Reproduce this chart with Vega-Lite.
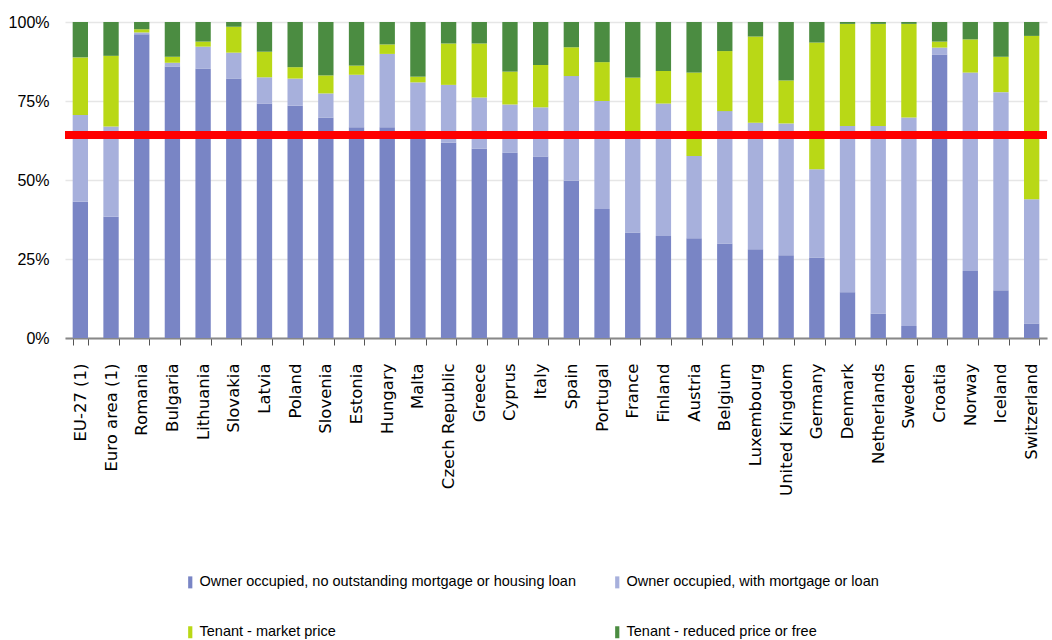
{
  "$schema": "https://vega.github.io/schema/vega-lite/v6.json",
  "width": 982,
  "height": 316,
  "padding": {"left": 8, "top": 14, "right": 5, "bottom": 0},
  "background": "white",
  "config": {"view": {"stroke": null}},
  "data": {
    "values": [
      {"country": "EU-27 (1)", "Owner occupied, no outstanding mortgage or housing loan": 43.1, "Owner occupied, with mortgage or loan": 27.5, "Tenant - market price": 18.2, "Tenant - reduced price or free": 11.2},
      {"country": "Euro area (1)", "Owner occupied, no outstanding mortgage or housing loan": 38.4, "Owner occupied, with mortgage or loan": 28.5, "Tenant - market price": 22.4, "Tenant - reduced price or free": 10.7},
      {"country": "Romania", "Owner occupied, no outstanding mortgage or housing loan": 96.1, "Owner occupied, with mortgage or loan": 0.6, "Tenant - market price": 1.0, "Tenant - reduced price or free": 2.3},
      {"country": "Bulgaria", "Owner occupied, no outstanding mortgage or housing loan": 85.9, "Owner occupied, with mortgage or loan": 1.2, "Tenant - market price": 1.9, "Tenant - reduced price or free": 11.0},
      {"country": "Lithuania", "Owner occupied, no outstanding mortgage or housing loan": 85.3, "Owner occupied, with mortgage or loan": 6.9, "Tenant - market price": 1.6, "Tenant - reduced price or free": 6.2},
      {"country": "Slovakia", "Owner occupied, no outstanding mortgage or housing loan": 82.1, "Owner occupied, with mortgage or loan": 8.2, "Tenant - market price": 8.2, "Tenant - reduced price or free": 1.5},
      {"country": "Latvia", "Owner occupied, no outstanding mortgage or housing loan": 74.2, "Owner occupied, with mortgage or loan": 8.3, "Tenant - market price": 8.1, "Tenant - reduced price or free": 9.4},
      {"country": "Poland", "Owner occupied, no outstanding mortgage or housing loan": 73.5, "Owner occupied, with mortgage or loan": 8.6, "Tenant - market price": 3.6, "Tenant - reduced price or free": 14.3},
      {"country": "Slovenia", "Owner occupied, no outstanding mortgage or housing loan": 69.8, "Owner occupied, with mortgage or loan": 7.6, "Tenant - market price": 5.7, "Tenant - reduced price or free": 16.9},
      {"country": "Estonia", "Owner occupied, no outstanding mortgage or housing loan": 66.7, "Owner occupied, with mortgage or loan": 16.6, "Tenant - market price": 2.9, "Tenant - reduced price or free": 13.8},
      {"country": "Hungary", "Owner occupied, no outstanding mortgage or housing loan": 66.7, "Owner occupied, with mortgage or loan": 23.2, "Tenant - market price": 3.0, "Tenant - reduced price or free": 7.1},
      {"country": "Malta", "Owner occupied, no outstanding mortgage or housing loan": 64.0, "Owner occupied, with mortgage or loan": 16.9, "Tenant - market price": 1.8, "Tenant - reduced price or free": 17.3},
      {"country": "Czech Republic", "Owner occupied, no outstanding mortgage or housing loan": 61.8, "Owner occupied, with mortgage or loan": 18.3, "Tenant - market price": 13.1, "Tenant - reduced price or free": 6.8},
      {"country": "Greece", "Owner occupied, no outstanding mortgage or housing loan": 60.0, "Owner occupied, with mortgage or loan": 16.1, "Tenant - market price": 17.1, "Tenant - reduced price or free": 6.8},
      {"country": "Cyprus", "Owner occupied, no outstanding mortgage or housing loan": 58.6, "Owner occupied, with mortgage or loan": 15.3, "Tenant - market price": 10.4, "Tenant - reduced price or free": 15.7},
      {"country": "Italy", "Owner occupied, no outstanding mortgage or housing loan": 57.4, "Owner occupied, with mortgage or loan": 15.6, "Tenant - market price": 13.4, "Tenant - reduced price or free": 13.6},
      {"country": "Spain", "Owner occupied, no outstanding mortgage or housing loan": 49.8, "Owner occupied, with mortgage or loan": 33.1, "Tenant - market price": 9.1, "Tenant - reduced price or free": 8.0},
      {"country": "Portugal", "Owner occupied, no outstanding mortgage or housing loan": 40.8, "Owner occupied, with mortgage or loan": 34.2, "Tenant - market price": 12.3, "Tenant - reduced price or free": 12.7},
      {"country": "France", "Owner occupied, no outstanding mortgage or housing loan": 33.4, "Owner occupied, with mortgage or loan": 30.6, "Tenant - market price": 18.4, "Tenant - reduced price or free": 17.6},
      {"country": "Finland", "Owner occupied, no outstanding mortgage or housing loan": 32.3, "Owner occupied, with mortgage or loan": 41.9, "Tenant - market price": 10.3, "Tenant - reduced price or free": 15.5},
      {"country": "Austria", "Owner occupied, no outstanding mortgage or housing loan": 31.6, "Owner occupied, with mortgage or loan": 26.0, "Tenant - market price": 26.4, "Tenant - reduced price or free": 16.0},
      {"country": "Belgium", "Owner occupied, no outstanding mortgage or housing loan": 29.9, "Owner occupied, with mortgage or loan": 41.9, "Tenant - market price": 19.0, "Tenant - reduced price or free": 9.2},
      {"country": "Luxembourg", "Owner occupied, no outstanding mortgage or housing loan": 28.1, "Owner occupied, with mortgage or loan": 40.0, "Tenant - market price": 27.3, "Tenant - reduced price or free": 4.6},
      {"country": "United Kingdom", "Owner occupied, no outstanding mortgage or housing loan": 26.2, "Owner occupied, with mortgage or loan": 41.7, "Tenant - market price": 13.6, "Tenant - reduced price or free": 18.5},
      {"country": "Germany", "Owner occupied, no outstanding mortgage or housing loan": 25.5, "Owner occupied, with mortgage or loan": 27.9, "Tenant - market price": 40.1, "Tenant - reduced price or free": 6.5},
      {"country": "Denmark", "Owner occupied, no outstanding mortgage or housing loan": 14.5, "Owner occupied, with mortgage or loan": 52.6, "Tenant - market price": 32.3, "Tenant - reduced price or free": 0.6},
      {"country": "Netherlands", "Owner occupied, no outstanding mortgage or housing loan": 7.7, "Owner occupied, with mortgage or loan": 59.4, "Tenant - market price": 32.3, "Tenant - reduced price or free": 0.6},
      {"country": "Sweden", "Owner occupied, no outstanding mortgage or housing loan": 3.8, "Owner occupied, with mortgage or loan": 66.0, "Tenant - market price": 29.6, "Tenant - reduced price or free": 0.6},
      {"country": "Croatia", "Owner occupied, no outstanding mortgage or housing loan": 89.6, "Owner occupied, with mortgage or loan": 2.3, "Tenant - market price": 1.9, "Tenant - reduced price or free": 6.2},
      {"country": "Norway", "Owner occupied, no outstanding mortgage or housing loan": 21.2, "Owner occupied, with mortgage or loan": 62.8, "Tenant - market price": 10.5, "Tenant - reduced price or free": 5.5},
      {"country": "Iceland", "Owner occupied, no outstanding mortgage or housing loan": 15.1, "Owner occupied, with mortgage or loan": 62.7, "Tenant - market price": 11.2, "Tenant - reduced price or free": 11.0},
      {"country": "Switzerland", "Owner occupied, no outstanding mortgage or housing loan": 4.6, "Owner occupied, with mortgage or loan": 39.3, "Tenant - market price": 51.7, "Tenant - reduced price or free": 4.4}
    ]
  },
  "layer": [
    {
      "transform": [
        {"fold": ["Owner occupied, no outstanding mortgage or housing loan", "Owner occupied, with mortgage or loan", "Tenant - market price", "Tenant - reduced price or free"], "as": ["tenure", "share"]}
      ],
      "mark": {"type": "bar"},
      "encoding": {
        "x": {
          "field": "country", "type": "nominal", "sort": null,
          "scale": {"paddingInner": 0.5, "paddingOuter": 0.25},
          "axis": {
            "title": null, "labelAngle": -90, "labelFont": "DejaVu Sans", "labelFontSize": 16.5, "labelColor": "#000000",
            "labelPadding": 18, "tickBand": "extent", "tickSize": 7, "tickColor": "#555555", "domainColor": "#888888", "domainWidth": 2,
            "grid": false
          }
        },
        "y": {
          "field": "share", "type": "quantitative", "stack": "zero",
          "scale": {"domain": [0, 100]},
          "axis": {
            "title": null, "values": [0, 25, 50, 75, 100], "labelExpr": "datum.value + '%'",
            "labelFont": "Liberation Sans", "labelFontSize": 16, "labelColor": "#000000", "labelPadding": 16,
            "ticks": false, "domain": false, "gridColor": "#e6e6e6", "gridWidth": 1.5
          }
        },
        "order": {"field": "tenure", "sort": "ascending"},
        "color": {
          "field": "tenure", "type": "nominal",
          "scale": {
            "domain": ["Owner occupied, no outstanding mortgage or housing loan", "Owner occupied, with mortgage or loan", "Tenant - market price", "Tenant - reduced price or free"],
            "range": ["#7985c5", "#a7b0dc", "#b9d816", "#4b8c41"]
          },
          "legend": {
            "title": null, "orient": "none", "legendX": 118, "legendY": 553, "columns": 2, "direction": "horizontal", "columnPadding": 34, "rowPadding": 35,
            "symbolType": "M-0.35,-1H0.35V1H-0.35Z", "symbolSize": 144, "symbolStrokeWidth": 0,
            "labelFont": "Liberation Sans", "labelFontSize": 14.5, "labelColor": "#000000", "labelOffset": 2, "labelLimit": 600
          }
        }
      }
    },
    {
      "mark": {"type": "rule", "color": "#ff0000", "strokeWidth": 7},
      "encoding": {"y": {"datum": 64.2, "type": "quantitative"}}
    }
  ]
}
